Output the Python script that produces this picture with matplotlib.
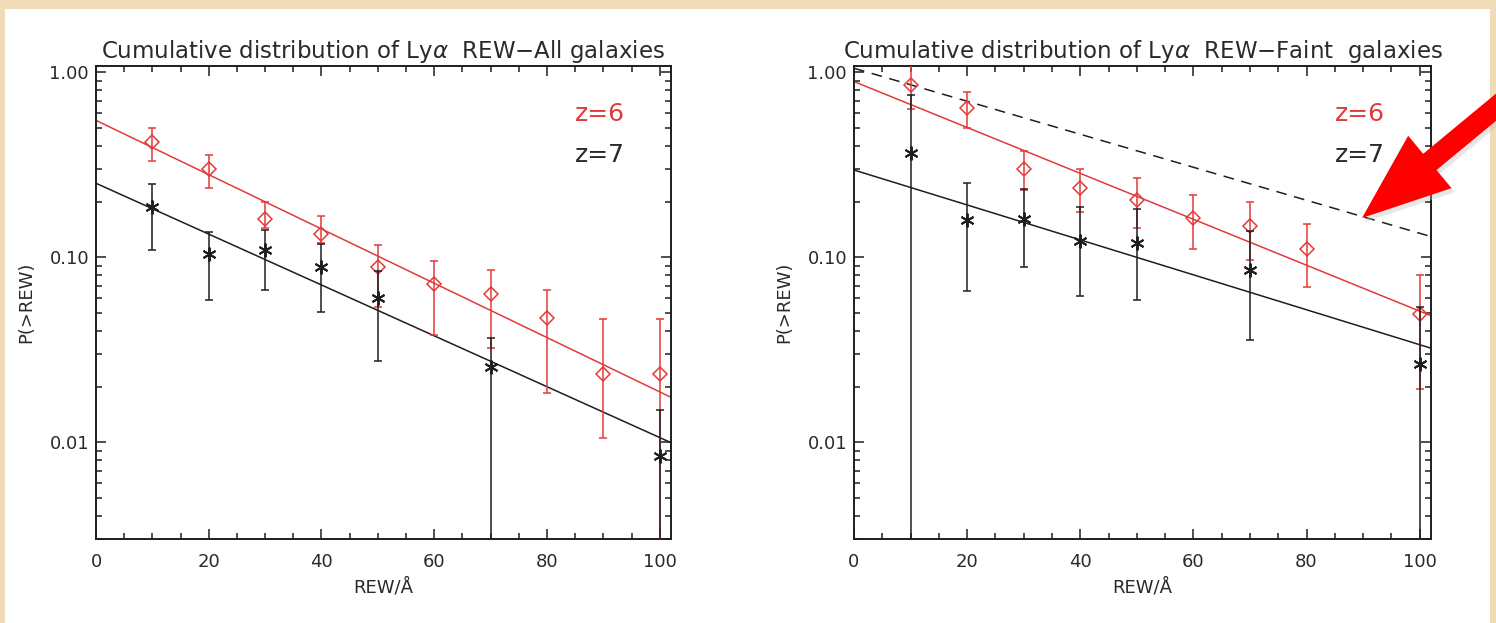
import numpy as np
import matplotlib
matplotlib.use("Agg")
import matplotlib.pyplot as plt
from matplotlib.ticker import FixedLocator, LogLocator, NullFormatter, FuncFormatter, MultipleLocator
from matplotlib.patches import Rectangle, FancyArrow

# ---------------- data ----------------
# Left panel: all galaxies
all_z6_rew = [10, 20, 30, 40, 50, 60, 70, 80, 90, 100]
all_z6_p   = [0.42, 0.30, 0.161, 0.133, 0.0887, 0.0718, 0.0634, 0.047, 0.0233, 0.0233]
all_z6_hi  = [0.50, 0.358, 0.198, 0.168, 0.116, 0.095, 0.0855, 0.0663, 0.0466, 0.0466]
all_z6_lo  = [0.33, 0.238, 0.143, 0.119, 0.0537, 0.0382, 0.0324, 0.0185, 0.0106, 1e-4]

all_z7_rew = [10, 20, 30, 40, 50, 70, 100]
all_z7_p   = [0.187, 0.1035, 0.1096, 0.0887, 0.0604, 0.0255, 0.00847]
all_z7_hi  = [0.248, 0.137, 0.141, 0.118, 0.0841, 0.0367, 0.015]
all_z7_lo  = [0.110, 0.0586, 0.0669, 0.0507, 0.0274, 1e-4, 1e-4]

# exponential fits  P(>REW) = A * exp(-REW / W0)
all_z6_fit = (0.549, 29.6)
all_z7_fit = (0.251, 31.6)

# Right panel: faint galaxies
faint_z6_rew = [10, 20, 30, 40, 50, 60, 70, 80, 100]
faint_z6_p   = [0.849, 0.637, 0.30, 0.238, 0.205, 0.163, 0.147, 0.111, 0.0495]
faint_z6_hi  = [1.3, 0.777, 0.376, 0.298, 0.268, 0.216, 0.20, 0.152, 0.080]
faint_z6_lo  = [0.63, 0.499, 0.231, 0.175, 0.143, 0.111, 0.096, 0.069, 0.0194]

faint_z7_rew = [10, 20, 30, 40, 50, 70, 100]
faint_z7_p   = [0.366, 0.159, 0.161, 0.122, 0.119, 0.0857, 0.0265]
faint_z7_hi  = [0.754, 0.252, 0.233, 0.186, 0.182, 0.138, 0.054]
faint_z7_lo  = [1e-4, 0.066, 0.0889, 0.0615, 0.059, 0.0359, 1e-4]

faint_z6_fit = (0.89, 35.0)
faint_z7_fit = (0.296, 46.0)
faint_ref_fit = (1.05, 48.7)   # dashed line

titles = ["Cumulative distribution of Ly$\\alpha$  REW\u2212All galaxies",
          "Cumulative distribution of Ly$\\alpha$  REW\u2212Faint  galaxies"]
legend_labels = ["z=6", "z=7"]
ytick_vals = [0.01, 0.10, 1.00]

# ---------------- style ----------------
RED = "#e23a3a"
BLK = "#1e1e1e"
TXT = "#2a2a2a"
BEIGE = "#efdcb6"
plt.rcParams["font.family"] = ["DejaVu Sans"]
plt.rcParams["mathtext.fontset"] = "dejavusans"

W, H = 1496, 623
fig = plt.figure(figsize=(W / 100, H / 100), dpi=100, facecolor="white")

# beige slide border
def px_rect(x0, y0, w, h):
    fig.patches.append(Rectangle((x0 / W, 1 - (y0 + h) / H), w / W, h / H,
                                 transform=fig.transFigure, facecolor=BEIGE,
                                 edgecolor="none", zorder=0))
px_rect(0, 0, W, 9)
px_rect(0, 0, 5, H)
px_rect(W - 6, 0, 6, H)

ax_l = fig.add_axes([96 / W, 1 - 539 / H, 575 / W, 473 / H])
ax_r = fig.add_axes([854 / W, 1 - 539 / H, 577 / W, 473 / H])

xfit = np.linspace(0, 102, 300)


def draw_errors(ax, x, p, lo, hi, color, marker, ms, mew, z):
    p = np.asarray(p)
    yerr = [p - np.asarray(lo), np.asarray(hi) - p]
    ax.errorbar(x, p, yerr=yerr, fmt="none", ecolor=color, elinewidth=1.1,
                capsize=3.0, capthick=1.1, zorder=z)
    ax.plot(x, p, linestyle="none", marker=marker, ms=ms, mew=mew,
            mec=color, mfc="none", zorder=z + 0.5)


def style_axes(ax, title):
    ax.set_yscale("log")
    ax.set_xlim(0, 102)
    ax.set_ylim(0.003, 1.08)
    ax.xaxis.set_major_locator(MultipleLocator(20))
    ax.xaxis.set_minor_locator(MultipleLocator(5))
    ax.yaxis.set_major_locator(FixedLocator(ytick_vals))
    ax.yaxis.set_minor_locator(LogLocator(base=10, subs=np.arange(2, 10)))
    ax.yaxis.set_major_formatter(FuncFormatter(lambda v, pos: "%.2f" % v))
    ax.yaxis.set_minor_formatter(NullFormatter())
    ax.tick_params(which="both", direction="in", top=True, right=True,
                   color=BLK, width=1.1, labelcolor=TXT)
    ax.tick_params(which="major", length=7.5)
    ax.tick_params(which="minor", length=4)
    ax.tick_params(axis="x", which="major", labelsize=13, pad=10)
    ax.tick_params(axis="y", which="major", labelsize=13, pad=5)
    for s in ax.spines.values():
        s.set_linewidth(1.4)
        s.set_color(BLK)
    ax.set_title(title, fontsize=16.5, color=TXT, pad=6)
    ax.set_xlabel("REW/\u00c5", fontsize=13, color=TXT, labelpad=5)
    ax.set_ylabel("P(>REW)", fontsize=13, color=TXT, labelpad=10)
    ax.text(0.833, 0.898, legend_labels[0], transform=ax.transAxes, color=RED,
            fontsize=18, va="center", ha="left")
    ax.text(0.833, 0.812, legend_labels[1], transform=ax.transAxes, color=TXT,
            fontsize=18, va="center", ha="left")


def fit_curve(params):
    a, w0 = params
    return a * np.exp(-xfit / w0)


# left panel
ax_l.plot(xfit, fit_curve(all_z6_fit), color=RED, lw=1.1, zorder=2)
ax_l.plot(xfit, fit_curve(all_z7_fit), color=BLK, lw=1.1, zorder=2)
draw_errors(ax_l, all_z6_rew, all_z6_p, all_z6_lo, all_z6_hi, RED, "D", 7.5, 1.1, 3)
draw_errors(ax_l, all_z7_rew, all_z7_p, all_z7_lo, all_z7_hi, BLK, (6, 2, 0), 10, 1.4, 4)
style_axes(ax_l, titles[0])

# right panel
ax_r.plot(xfit, fit_curve(faint_ref_fit), color=BLK, lw=1.1, dashes=(7, 5), zorder=2)
ax_r.plot(xfit, fit_curve(faint_z6_fit), color=RED, lw=1.1, zorder=2)
ax_r.plot(xfit, fit_curve(faint_z7_fit), color=BLK, lw=1.1, zorder=2)
draw_errors(ax_r, faint_z6_rew, faint_z6_p, faint_z6_lo, faint_z6_hi, RED, "D", 7.5, 1.1, 3)
draw_errors(ax_r, faint_z7_rew, faint_z7_p, faint_z7_lo, faint_z7_hi, BLK, (6, 2, 0), 10, 1.4, 4)
style_axes(ax_r, titles[1])

# red annotation arrow (slide overlay), in figure pixel coordinates
tail = (1535, 75)
tip = (1362, 218)
kw = dict(width=0.21, head_width=0.68, head_length=0.88,
          length_includes_head=True, transform=fig.dpi_scale_trans)
arrow_shadow = FancyArrow(tail[0] / 100 + 0.03, (H - tail[1]) / 100 - 0.04,
                          (tip[0] - tail[0]) / 100, -(tip[1] - tail[1]) / 100,
                          facecolor="#bbbbbb", edgecolor="none", alpha=0.35, zorder=9, **kw)
arrow = FancyArrow(tail[0] / 100, (H - tail[1]) / 100,
                   (tip[0] - tail[0]) / 100, -(tip[1] - tail[1]) / 100,
                   facecolor="#ff0000", edgecolor="none", zorder=10, **kw)
fig.patches.append(arrow_shadow)
fig.patches.append(arrow)

fig.savefig("out.png", dpi=100, facecolor="white")
